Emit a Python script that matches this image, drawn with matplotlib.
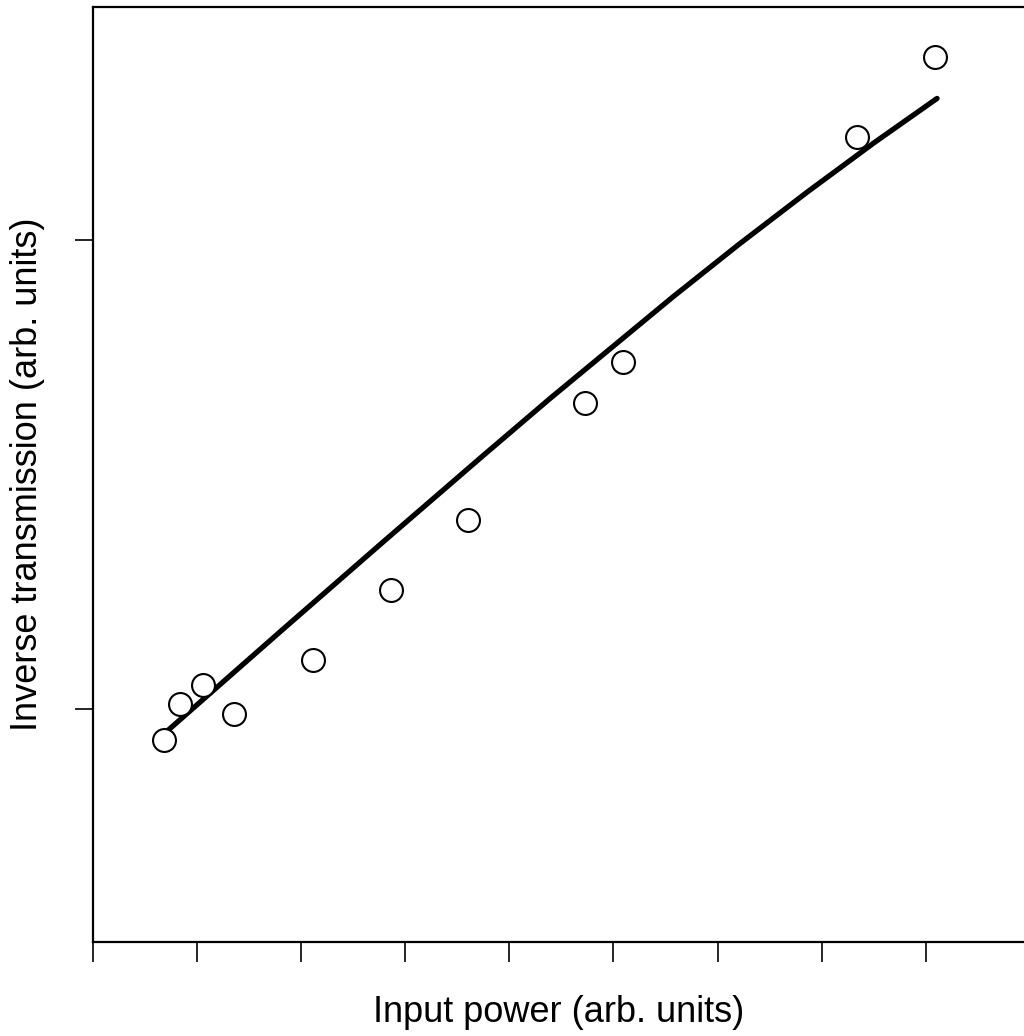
import matplotlib
matplotlib.use("Agg")
import matplotlib.pyplot as plt

# Measured data (arbitrary units)
x_points = [0.68, 0.84, 1.06, 1.35, 2.11, 2.86, 3.60, 4.73, 5.09, 7.34, 8.09]
y_points = [0.934, 1.011, 1.051, 0.989, 1.104, 1.254, 1.403, 1.652, 1.740, 2.220, 2.390]

# Fit curve
x_fit = [0.672, 1.825, 2.786, 3.746, 4.390, 5.000, 5.572, 6.200, 6.859, 7.500, 8.108]
y_fit = [0.945, 1.170, 1.356, 1.540, 1.662, 1.774, 1.879, 1.990, 2.102, 2.207, 2.302]

x_ticks = [0, 1, 2, 3, 4, 5, 6, 7, 8]
y_ticks = [1, 2]

plt.rcParams['font.family'] = ['Liberation Sans', 'DejaVu Sans']

fig = plt.figure(figsize=(10.24, 10.36), dpi=100)
ax = fig.add_axes([93/1024, 1 - 942/1036, 1 - 93/1024, (942 - 7)/1036])

ax.plot(x_fit, y_fit, color='black', lw=3.8, solid_capstyle='round',
        solid_joinstyle='round', zorder=2)
ax.plot(x_points, y_points, linestyle='none', marker='o', ms=16.5,
        mfc='white', mec='black', mew=1.5, zorder=3)

ax.set_xlim(0, (1024 - 93) / 104.1)
ax.set_ylim(0.503, 2.497)
ax.set_xticks(x_ticks)
ax.set_yticks(y_ticks)
ax.set_xticklabels([])
ax.set_yticklabels([])
ax.tick_params(axis='x', direction='out', length=14.5, width=1.2, color='black')
ax.tick_params(axis='y', direction='out', length=13, width=1.2, color='black')

for side in ['left', 'bottom', 'top']:
    ax.spines[side].set_linewidth(1.6)
    ax.spines[side].set_color('black')
ax.spines['right'].set_visible(False)

ax.set_xlabel('Input power (arb. units)', fontsize=26, va='center')
ax.xaxis.set_label_coords(0.5, (942 - 1012) / 935)
ax.set_ylabel('Inverse transmission (arb. units)', fontsize=26, va='center')
ax.yaxis.set_label_coords((28 - 93) / 931, 0.5)

fig.savefig('out.png', dpi=100)
